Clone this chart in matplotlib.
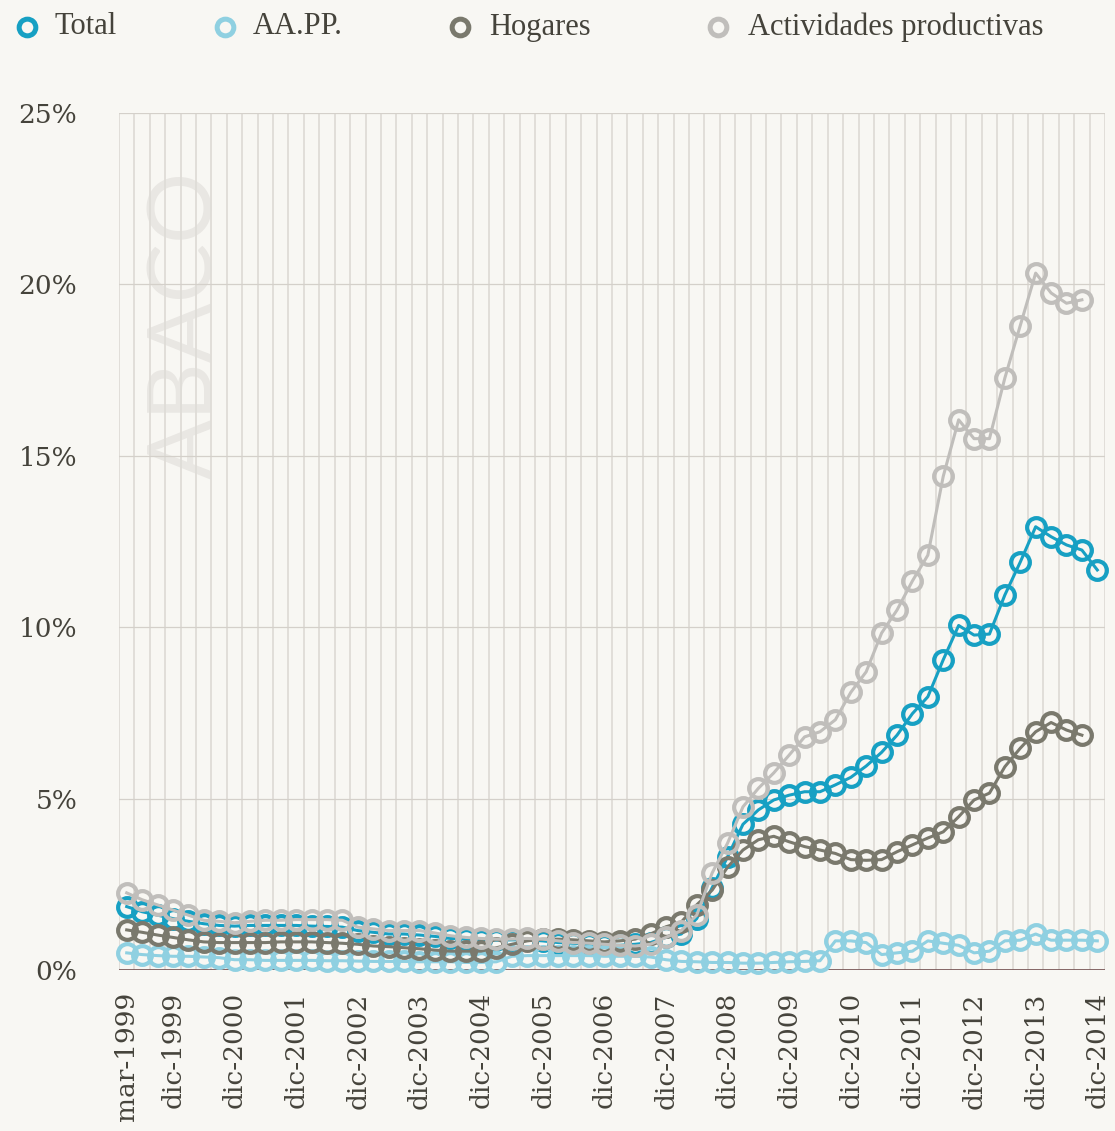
import numpy as np
import matplotlib
matplotlib.use("Agg")
import matplotlib.pyplot as plt
from matplotlib.lines import Line2D

# ---------------- data ----------------
quarters = []
_m = ["mar", "jun", "sep", "dic"]
for _y in range(1999, 2015):
    for _q in _m:
        quarters.append(f"{_q}-{_y}")

tick_labels = ["mar-1999"] + [f"dic-{y}" for y in range(1999, 2015)]

series_names = ["Total", "AA.PP.", "Hogares", "Actividades productivas"]

total = [1.85, 1.70, 1.60, 1.50, 1.42, 1.35, 1.30, 1.28, 1.30, 1.30, 1.30, 1.30,
         1.28, 1.27, 1.25, 1.15, 1.10, 1.05, 1.05, 1.02, 0.98, 0.92, 0.90, 0.88,
         0.87, 0.88, 0.88, 0.85, 0.80, 0.78, 0.75, 0.72, 0.72, 0.75, 0.80, 0.95,
         1.05, 1.50, 2.40, 3.30, 4.25, 4.67, 4.96, 5.10, 5.20, 5.20, 5.40, 5.62,
         5.95, 6.35, 6.85, 7.48, 7.97, 9.05, 10.05, 9.77, 9.80, 10.94, 11.90, 12.93,
         12.64, 12.40, 12.25, 11.67]

aapp = [0.50, 0.45, 0.42, 0.40, 0.40, 0.38, 0.36, 0.30, 0.30, 0.28, 0.28, 0.28,
        0.28, 0.27, 0.27, 0.26, 0.25, 0.25, 0.25, 0.24, 0.24, 0.24, 0.22, 0.22,
        0.24, 0.40, 0.42, 0.42, 0.42, 0.42, 0.42, 0.40, 0.40, 0.40, 0.38, 0.30,
        0.25, 0.24, 0.22, 0.22, 0.20, 0.20, 0.22, 0.24, 0.25, 0.27, 0.85, 0.85,
        0.80, 0.45, 0.50, 0.55, 0.85, 0.78, 0.72, 0.50, 0.55, 0.85, 0.87, 1.05,
        0.87, 0.87, 0.87, 0.85]

hogares = [1.17, 1.10, 1.02, 0.95, 0.88, 0.82, 0.80, 0.80, 0.80, 0.80, 0.82, 0.82,
           0.82, 0.80, 0.78, 0.75, 0.70, 0.68, 0.65, 0.62, 0.58, 0.55, 0.55, 0.55,
           0.65, 0.75, 0.85, 0.90, 0.90, 0.88, 0.85, 0.82, 0.85, 0.90, 1.05, 1.26,
           1.40, 1.90, 2.33, 3.00, 3.50, 3.80, 3.90, 3.74, 3.60, 3.50, 3.40, 3.22,
           3.20, 3.22, 3.45, 3.65, 3.85, 4.03, 4.47, 4.96, 5.16, 5.93, 6.47, 6.95,
           7.22, 7.00, 6.85, np.nan]

actividades = [2.25, 2.05, 1.90, 1.75, 1.60, 1.45, 1.42, 1.38, 1.42, 1.45, 1.45, 1.47,
               1.47, 1.47, 1.45, 1.25, 1.20, 1.15, 1.15, 1.15, 1.08, 1.00, 0.95, 0.92,
               0.90, 0.90, 0.92, 0.90, 0.85, 0.80, 0.78, 0.75, 0.72, 0.70, 0.75, 0.95,
               1.15, 1.60, 2.83, 3.70, 4.76, 5.30, 5.75, 6.27, 6.80, 6.95, 7.30, 8.10,
               8.70, 9.83, 10.50, 11.35, 12.10, 14.40, 16.05, 15.50, 15.50, 17.27, 18.80, 20.33,
               19.75, 19.45, 19.55, np.nan]

colors = ["#17a0c3", "#8fd0e1", "#7a796d", "#c0bebb"]
y_ticks = [0, 5, 10, 15, 20, 25]

# ---------------- figure ----------------
bg = "#f8f7f3"
fig = plt.figure(figsize=(11.15, 11.31), dpi=100, facecolor=bg)
ax = fig.add_axes([119 / 1115, 1 - 970 / 1131, (1105 - 119) / 1115, (970 - 113) / 1131])
ax.set_facecolor(bg)

n = len(quarters)
x = np.arange(n)

# watermark (behind the grid)
ax.text(187 / 1115, 1 - 325 / 1131, "ABACO", transform=fig.transFigure, rotation=90,
        ha="center", va="center", fontsize=64, family="Lato", fontweight="normal",
        color="#e9e7e3", zorder=0.5, clip_on=False)

# vertical gridlines at category boundaries
for b in np.arange(-0.5, n, 1.0):
    ax.axvline(b, color="#dfdcd7", lw=1.3, zorder=1)
for yv in y_ticks[1:]:
    ax.axhline(yv, color="#d4d0ca", lw=0.9, zorder=1.2)
ax.axhline(0, color="#7d5b5b", lw=1.3, zorder=1.5)

data = [total, aapp, hogares, actividades]
zorders = [3, 4, 5, 6]
for name, vals, c, z in zip(series_names, data, colors, zorders):
    ax.plot(x, vals, color=c, lw=2.2, marker="o", ms=13.5, mfc="none",
            mec=c, mew=3.0, zorder=z, clip_on=False)

ax.set_xlim(-0.5, n - 0.5)
ax.set_ylim(0, 25)
ax.set_yticks(y_ticks)
ax.set_yticklabels([f"{v}%" for v in y_ticks])
tick_pos = [quarters.index(t) for t in tick_labels]
ax.set_xticks(tick_pos)
ax.set_xticklabels(tick_labels, rotation=90, va="top", ha="center")
for lab in ax.get_xticklabels() + ax.get_yticklabels():
    lab.set_fontfamily("DejaVu Serif")
    lab.set_fontsize(19)
    lab.set_color("#45433b")
ax.tick_params(axis="both", length=0)
ax.tick_params(axis="y", pad=30)
ax.tick_params(axis="x", pad=16)
for s in ax.spines.values():
    s.set_visible(False)

# legend (manual)
leg_marker_x = [27, 225, 460, 718]
leg_text_x = [55, 253, 489, 748]
leg_y = 1 - 27 / 1131
for name, c, mx, tx in zip(series_names, colors, leg_marker_x, leg_text_x):
    fig.add_artist(Line2D([mx / 1115], [leg_y], transform=fig.transFigure, marker="o",
                          ms=12, mfc="none", mec=c, mew=3.6, ls="none"))
    fig.text(tx / 1115, leg_y, name, ha="left", va="center", fontsize=22,
             family="Liberation Serif", color="#45433b")

fig.savefig("out.png", dpi=100, facecolor=bg)
